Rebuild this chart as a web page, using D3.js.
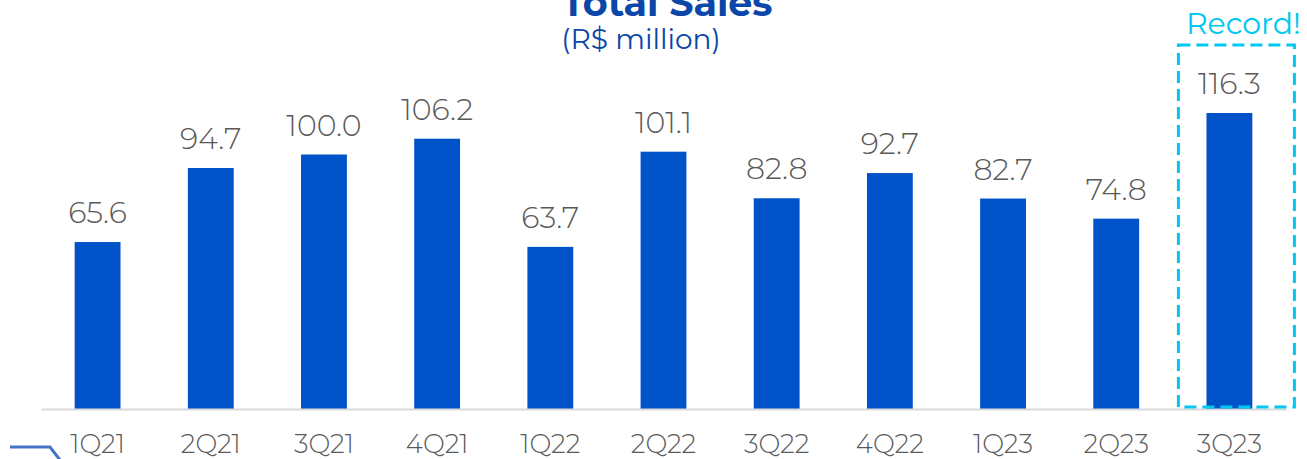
<!DOCTYPE html>
<html>
<head>
<meta charset="utf-8">
<script src="https://cdn.jsdelivr.net/npm/d3@7"></script>
<style>
  html, body { margin: 0; padding: 0; background: #fff; }
  svg { display: block; }
</style>
</head>
<body>
<svg id="chart" width="1307" height="459"></svg>
<script>
// Quarterly total sales, R$ million
const quarters = ["1Q21", "2Q21", "3Q21", "4Q21", "1Q22", "2Q22", "3Q22", "4Q22", "1Q23", "2Q23", "3Q23"];
const sales = [65.6, 94.7, 100.0, 106.2, 63.7, 101.1, 82.8, 92.7, 82.7, 74.8, 116.3];
const highlightQuarter = "3Q23";

const svg = d3.select("#chart");
const FONT = "Montserrat, 'Open Sans', Lato, sans-serif";

const x = d3.scaleBand()
  .domain(quarters)
  .range([41, 1286])
  .paddingInner(0.595)
  .paddingOuter(0.2975);

const y = d3.scaleLinear()
  .domain([0, 120])
  .range([409, 409 - 120 * 2.545]);

// Title
svg.append("text")
  .attr("x", 667).attr("y", 16)
  .attr("text-anchor", "middle")
  .attr("font-family", FONT)
  .attr("font-weight", 700)
  .attr("font-size", 38)
  .attr("fill", "#0A47A8")
  .text("Total Sales");

svg.append("text")
  .attr("x", 641).attr("y", 49)
  .attr("text-anchor", "middle")
  .attr("font-family", FONT)
  .attr("font-weight", 400)
  .attr("font-size", 28)
  .attr("fill", "#0A47A8")
  .text("(R$ million)");

// Bars
svg.append("g")
  .selectAll("rect")
  .data(quarters)
  .join("rect")
  .attr("x", d => x(d))
  .attr("width", x.bandwidth())
  .attr("y", (d, i) => y(sales[i]))
  .attr("height", (d, i) => y(0) - y(sales[i]))
  .attr("fill", "#0052C8");

// Value labels
svg.append("g")
  .selectAll("text")
  .data(quarters)
  .join("text")
  .attr("x", d => x(d) + x.bandwidth() / 2)
  .attr("y", (d, i) => y(sales[i]) - 19)
  .attr("text-anchor", "middle")
  .attr("font-family", FONT)
  .attr("font-weight", 300)
  .attr("font-size", 30)
  .attr("fill", "#595959")
  .text((d, i) => sales[i].toFixed(1));

// Baseline axis with category labels
const axis = svg.append("g")
  .attr("transform", `translate(0,${y(0)})`)
  .call(d3.axisBottom(x).tickSize(0).tickPadding(26));
axis.select(".domain").attr("stroke", "#D9D9D9").attr("stroke-width", 2);
axis.selectAll(".tick text")
  .attr("font-family", FONT)
  .attr("font-weight", 300)
  .attr("font-size", 26)
  .attr("fill", "#595959");

// Highlight box around the record quarter
const hx = x(highlightQuarter) + x.bandwidth() / 2;
svg.append("rect")
  .attr("x", hx - 51).attr("y", 45)
  .attr("width", 116).attr("height", y(0) - 2 - 45)
  .attr("fill", "none")
  .attr("stroke", "#00C8F0")
  .attr("stroke-width", 3)
  .attr("stroke-dasharray", "12,6");

svg.append("text")
  .attr("x", hx + 14).attr("y", 34)
  .attr("text-anchor", "middle")
  .attr("font-family", FONT)
  .attr("font-weight", 400)
  .attr("font-size", 30)
  .attr("fill", "#00C8F0")
  .text("Record!");

// Corner decoration
svg.append("path")
  .attr("d", "M10,447 L50,447 L60,460")
  .attr("fill", "none")
  .attr("stroke", "#4472C4")
  .attr("stroke-width", 3);
</script>
</body>
</html>
